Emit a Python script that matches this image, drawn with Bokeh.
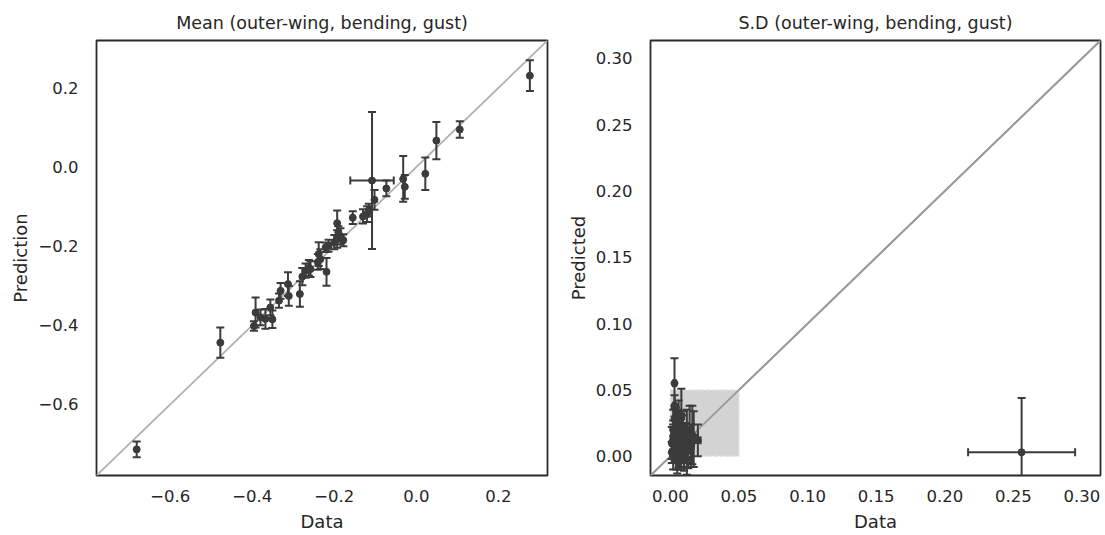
import numpy as np
from bokeh.plotting import figure
from bokeh.models import Range1d, FixedTicker, CustomJSTickFormatter, ColumnDataSource
from bokeh.layouts import row
from bokeh.embed import file_html
from bokeh.resources import INLINE

# ---------------- data ----------------
# Left: mean (outer-wing, bending, gust)
mean_data = [0.277, 0.106, 0.049, 0.022, -0.032, -0.028, -0.073, -0.108, -0.102, -0.116,
             -0.120, -0.130, -0.155, -0.193, -0.185, -0.178, -0.193, -0.200, -0.214, -0.221,
             -0.238, -0.234, -0.219, -0.258, -0.270, -0.278, -0.284, -0.313, -0.311, -0.331,
             -0.335, -0.356, -0.392, -0.396, -0.380, -0.351, -0.368, -0.478, -0.682, -0.240,
             -0.190, -0.262]
mean_pred = [0.231, 0.095, 0.067, -0.017, -0.030, -0.050, -0.054, -0.034, -0.083, -0.109,
             -0.119, -0.125, -0.128, -0.142, -0.175, -0.185, -0.182, -0.190, -0.199, -0.203,
             -0.220, -0.233, -0.265, -0.258, -0.262, -0.277, -0.321, -0.296, -0.326, -0.313,
             -0.338, -0.355, -0.368, -0.402, -0.380, -0.385, -0.384, -0.444, -0.714, -0.240,
             -0.165, -0.255]
mean_pred_err = [0.039, 0.021, 0.047, 0.041, 0.058, 0.030, 0.020, 0.173, 0.025, 0.016,
                 0.020, 0.018, 0.016, 0.032, 0.020, 0.015, 0.022, 0.018, 0.015, 0.012,
                 0.030, 0.025, 0.035, 0.020, 0.018, 0.022, 0.032, 0.030, 0.025, 0.020,
                 0.018, 0.020, 0.038, 0.012, 0.020, 0.022, 0.025, 0.038, 0.020, 0.020,
                 0.015, 0.020]
mean_data_err = [0.0, 0.0, 0.0, 0.0, 0.0, 0.0, 0.0, 0.053, 0.0, 0.0,
                 0.0, 0.0, 0.0, 0.0, 0.0, 0.0, 0.0, 0.0, 0.0, 0.0,
                 0.0, 0.0, 0.0, 0.0, 0.0, 0.0, 0.0, 0.0, 0.0, 0.0,
                 0.0, 0.0, 0.0, 0.0, 0.0, 0.0, 0.0, 0.0, 0.0, 0.0,
                 0.0, 0.0]

# Right: S.D (outer-wing, bending, gust)
sd_data = [0.003, 0.008, 0.002, 0.004, 0.005, 0.006, 0.001, 0.003, 0.007, 0.009,
           0.010, 0.012, 0.014, 0.016, 0.017, 0.020, 0.002, 0.004, 0.006, 0.003,
           0.005, 0.008, 0.011, 0.013, 0.002, 0.004, 0.001, 0.006, 0.009, 0.015,
           0.003, 0.007, 0.005, 0.002, 0.010, 0.012, 0.256]
sd_pred = [0.055, 0.030, 0.020, 0.025, 0.015, 0.022, 0.010, 0.005, 0.012, 0.018,
           0.008, 0.015, 0.020, 0.016, 0.013, 0.012, 0.000, 0.002, 0.006, 0.028,
           -0.003, 0.003, 0.010, 0.005, 0.012, 0.018, 0.003, 0.033, 0.022, 0.008,
           0.038, 0.000, 0.009, 0.015, 0.002, -0.002, 0.003]
sd_pred_err = [0.019, 0.021, 0.015, 0.012, 0.014, 0.010, 0.012, 0.010, 0.015, 0.013,
               0.016, 0.020, 0.018, 0.022, 0.021, 0.012, 0.010, 0.012, 0.014, 0.010,
               0.010, 0.013, 0.015, 0.014, 0.012, 0.010, 0.008, 0.009, 0.012, 0.016,
               0.008, 0.010, 0.011, 0.012, 0.013, 0.012, 0.041]
sd_data_err = [0.001, 0.002, 0.001, 0.002, 0.001, 0.002, 0.001, 0.001, 0.003, 0.002,
               0.002, 0.003, 0.002, 0.004, 0.003, 0.002, 0.001, 0.002, 0.001, 0.001,
               0.002, 0.003, 0.002, 0.003, 0.001, 0.002, 0.001, 0.002, 0.003, 0.002,
               0.001, 0.002, 0.002, 0.001, 0.002, 0.003, 0.039]

mean_ticks = [-0.6, -0.4, -0.2, 0.0, 0.2]
sd_ticks = [0.0, 0.05, 0.10, 0.15, 0.20, 0.25, 0.30]
mean_lims = (-0.78, 0.32)
sd_lims = (-0.0145, 0.3135)
zoom_box = (0.0, 0.05)

INK = "#3b3b3b"
TXT = "#262626"
FONT = "DejaVu Sans"


def make_fig(title, xlabel, ylabel, lims, ticks, digits, width, bl, br, diag_color):
    p = figure(width=width, height=535, output_backend="svg", toolbar_location=None,
               x_range=Range1d(*lims), y_range=Range1d(*lims),
               min_border_left=bl, min_border_right=br, min_border_top=40,
               min_border_bottom=60, title=title)
    p.title.text_font = FONT
    p.title.text_font_style = "normal"
    p.title.text_font_size = "17.5px"
    p.title.text_color = TXT
    p.title.align = "center"
    p.title.offset = 0
    p.title.standoff = 16
    p.outline_line_color = "#2a2a2a"
    p.outline_line_width = 1.8
    p.grid.visible = False
    fmt = CustomJSTickFormatter(args=dict(d=digits),
                                code="return tick.toFixed(d).replace('-', '\u2212');")
    for ax in (p.xaxis[0], p.yaxis[0]):
        ax.ticker = FixedTicker(ticks=ticks)
        ax.formatter = fmt
        ax.axis_line_color = None
        ax.major_tick_line_color = None
        ax.minor_tick_line_color = None
        ax.major_label_text_font = FONT
        ax.major_label_text_font_size = "16.5px"
        ax.major_label_text_color = TXT
        ax.axis_label_text_font = FONT
        ax.axis_label_text_font_style = "normal"
        ax.axis_label_text_font_size = "18px"
        ax.axis_label_text_color = TXT
    p.xaxis.axis_label = xlabel
    p.yaxis.axis_label = ylabel
    p.xaxis.major_label_standoff = 8
    p.yaxis.major_label_standoff = 12
    p.xaxis.axis_label_standoff = 6
    p.yaxis.axis_label_standoff = 4
    p.line(x=list(lims), y=list(lims), line_color=diag_color, line_width=1.8)
    return p


def add_errorbars(p, xs, ys, yerr, xerr):
    xs = np.array(xs); ys = np.array(ys); yerr = np.array(yerr); xerr = np.array(xerr)
    src = ColumnDataSource(dict(x=xs, y=ys, yl=ys - yerr, yu=ys + yerr,
                                xl=xs - xerr, xu=xs + xerr))
    p.segment(x0="x", y0="yl", x1="x", y1="yu", source=src, line_color=INK, line_width=2)
    p.scatter(x="x", y="yl", source=src, marker="dash", size=8, line_color=INK, line_width=2)
    p.scatter(x="x", y="yu", source=src, marker="dash", size=8, line_color=INK, line_width=2)
    m = xerr > 0
    if m.any():
        src2 = ColumnDataSource(dict(y=ys[m], xl=(xs - xerr)[m], xu=(xs + xerr)[m]))
        p.segment(x0="xl", y0="y", x1="xu", y1="y", source=src2, line_color=INK, line_width=2)
        p.scatter(x="xl", y="y", source=src2, marker="dash", angle=np.pi / 2, size=8,
                  line_color=INK, line_width=2)
        p.scatter(x="xu", y="y", source=src2, marker="dash", angle=np.pi / 2, size=8,
                  line_color=INK, line_width=2)
    p.scatter(x="x", y="y", source=src, size=7, fill_color=INK, line_color=INK)


p1 = make_fig("Mean (outer-wing, bending, gust)", "Data", "Prediction", mean_lims,
              mean_ticks, 1, 560, 96, 13, "#b0b0b0")
add_errorbars(p1, mean_data, mean_pred, mean_pred_err, mean_data_err)

p2 = make_fig("S.D (outer-wing, bending, gust)", "Data", "Predicted", sd_lims,
              sd_ticks, 2, 545, 90, 5, "#999999")
p2.quad(left=zoom_box[0], right=zoom_box[1], bottom=zoom_box[0], top=zoom_box[1],
        fill_color="#d3d3d3", line_color="#e4e4e4", line_dash="4 2", line_width=1.5)
# redraw diagonal above box
p2.line(x=list(sd_lims), y=list(sd_lims), line_color="#999999", line_width=1.8)
add_errorbars(p2, sd_data, sd_pred, sd_pred_err, sd_data_err)

layout = row(p1, p2)
open("out.html", "w").write(file_html(layout, INLINE))
